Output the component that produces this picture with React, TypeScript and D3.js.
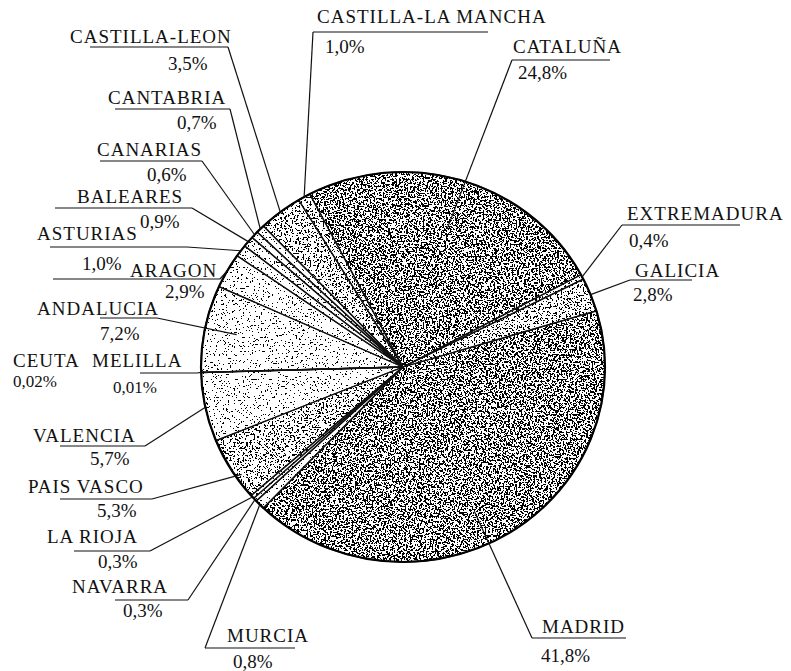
import React from "react";
import * as d3 from "d3";

// clockwise from the top, starting with Cataluña
const regions = [
  "CATALUÑA", "EXTREMADURA", "GALICIA", "MADRID", "MURCIA", "NAVARRA",
  "LA RIOJA", "PAIS VASCO", "VALENCIA", "CEUTA", "MELILLA", "ANDALUCIA",
  "ARAGON", "ASTURIAS", "BALEARES", "CANARIAS", "CANTABRIA",
  "CASTILLA-LEON", "CASTILLA-LA MANCHA",
];
const shares = [
  24.8, 0.4, 2.8, 41.8, 0.8, 0.3,
  0.3, 5.3, 5.7, 0.02, 0.01, 7.2,
  2.9, 1.0, 0.9, 0.6, 0.7,
  3.5, 1.0,
];

// stipple density per slice
const tone: Record<string, string> = {
  "CATALUÑA": "dark", "MADRID": "dark", "EXTREMADURA": "mid", "GALICIA": "mid",
  "PAIS VASCO": "mid", "CASTILLA-LEON": "mid", "CASTILLA-LA MANCHA": "mid",
};

// label placement: name, percent, underline, join point, leader anchor in slice
const labelLayout = [
  { id: "CASTILLA-LA MANCHA", nx: 317, ny: 23, px: 325, py: 53, ux1: 313, ux2: 488, uy: 32, jx: 313, f: 0.5, r: 1 },
  { id: "CATALUÑA", nx: 513, ny: 53, px: 518, py: 79, ux1: 512, ux2: 610, uy: 60, jx: 512, f: 0.5, r: 0.74 },
  { id: "CASTILLA-LEON", nx: 70, ny: 43, px: 168, py: 70, ux1: 90, ux2: 228, uy: 47, jx: 228, f: 0.5, r: 1 },
  { id: "CANTABRIA", nx: 108, ny: 104, px: 177, py: 129, ux1: 115, ux2: 230, uy: 109, jx: 230, f: 0.5, r: 1 },
  { id: "CANARIAS", nx: 97, ny: 156, px: 147, py: 181, ux1: 100, ux2: 202, uy: 161, jx: 202, f: 0.5, r: 1 },
  { id: "BALEARES", nx: 77, ny: 203, px: 140, py: 228, ux1: 55, ux2: 192, uy: 208, jx: 192, f: 0.5, r: 1 },
  { id: "ASTURIAS", nx: 37, ny: 240, px: 82, py: 270, ux1: 50, ux2: 187, uy: 247, jx: 187, f: 0.5, r: 1 },
  { id: "ARAGON", nx: 130, ny: 277, px: 165, py: 298, ux1: 53, ux2: 220, uy: 279, jx: 220, f: 0.5, r: 1 },
  { id: "ANDALUCIA", nx: 37, ny: 315, px: 100, py: 340, ux1: 100, ux2: 157, uy: 318, jx: 157, f: 0.5, r: 0.84 },
  { id: "CEUTA", nx: 13, ny: 367, px: 13, py: 387, ux1: 0, ux2: 0, uy: 0, jx: -1, f: 0.5, r: 1 },
  { id: "MELILLA", nx: 92, ny: 367, px: 113, py: 393, ux1: 140, ux2: 197, uy: 373, jx: 197, f: 0.5, r: 1 },
  { id: "VALENCIA", nx: 33, ny: 442, px: 90, py: 465, ux1: 60, ux2: 145, uy: 446, jx: 145, f: 0.5, r: 1 },
  { id: "PAIS VASCO", nx: 28, ny: 493, px: 97, py: 517, ux1: 60, ux2: 152, uy: 499, jx: 152, f: 0.35, r: 0.97 },
  { id: "LA RIOJA", nx: 47, ny: 543, px: 98, py: 568, ux1: 74, ux2: 150, uy: 551, jx: 150, f: 0.5, r: 1 },
  { id: "NAVARRA", nx: 72, ny: 593, px: 123, py: 617, ux1: 115, ux2: 188, uy: 600, jx: 188, f: 0.5, r: 1 },
  { id: "MURCIA", nx: 227, ny: 642, px: 233, py: 668, ux1: 205, ux2: 295, uy: 648, jx: 205, f: 0.5, r: 1 },
  { id: "MADRID", nx: 542, ny: 633, px: 541, py: 662, ux1: 532, ux2: 626, uy: 638, jx: 532, f: 0.54, r: 0.82 },
  { id: "EXTREMADURA", nx: 627, ny: 220, px: 629, py: 247, ux1: 622, ux2: 740, uy: 225, jx: 622, f: 0.5, r: 1 },
  { id: "GALICIA", nx: 635, ny: 277, px: 633, py: 301, ux1: 630, ux2: 692, uy: 280, jx: 630, f: 0.5, r: 1 },
];

const W = 791;
const H = 671;
const cx = 403;
const cy = 367;
const R = 202;
const ky = 195 / 202;
const startDeg = -27.5;

const fmt = (v: number) =>
  (v < 0.1 ? d3.format(".2f")(v) : d3.format(".1f")(v)).replace(".", ",") + "%";

const thresholds: Record<string, number> = { dark: 0.52, mid: 0.58, light: 0.67 };

export default function App() {
  const data = regions.map((name, i) => ({ name, value: shares[i] }));
  const start = (startDeg * Math.PI) / 180;
  const pie = d3.pie<{ name: string; value: number }>()
    .sort(null)
    .value((d) => d.value)
    .startAngle(start)
    .endAngle(start + 2 * Math.PI);
  const arcs = pie(data);
  const arc = d3.arc<d3.PieArcDatum<{ name: string; value: number }>>()
    .innerRadius(0)
    .outerRadius(R);

  const byName = new Map(arcs.map((a) => [a.data.name, a]));

  return (
    <svg width={W} height={H} style={{ position: "absolute", left: 0, top: 0, background: "#fff" }}>
      <defs>
        {Object.entries(thresholds).map(([k, t], i) => (
          <filter key={k} id={`st-${k}`} x="0" y="0" width="1" height="1" colorInterpolationFilters="sRGB">
            <feTurbulence type="fractalNoise" baseFrequency="0.55" numOctaves={2} seed={3 + i} result="n" />
            <feColorMatrix
              in="n"
              type="matrix"
              values={`0 0 0 0 0  0 0 0 0 0  0 0 0 0 0  12 0 0 0 ${0.5 - 12 * t}`}
              result="m"
            />
            <feComponentTransfer in="m" result="d">
              <feFuncA type="discrete" tableValues="0 1" />
            </feComponentTransfer>
            <feComposite in="d" in2="SourceAlpha" operator="in" />
          </filter>
        ))}
      </defs>

      <g transform={`translate(${cx},${cy}) scale(1,${ky})`}>
        {arcs.map((a) => (
          <path key={a.data.name + "-bg"} d={arc(a) || ""} fill="#fff" />
        ))}
        {arcs.map((a) => (
          <path
            key={a.data.name + "-st"}
            d={arc(a) || ""}
            fill="#000"
            filter={`url(#st-${tone[a.data.name] || "light"})`}
          />
        ))}
        {arcs.map((a) => (
          <path
            key={a.data.name + "-ln"}
            d={arc(a) || ""}
            fill="none"
            stroke="#111"
            strokeWidth={1.3}
            vectorEffect="non-scaling-stroke"
            strokeLinejoin="round"
          />
        ))}
        <circle r={R} fill="none" stroke="#000" strokeWidth={2.2} vectorEffect="non-scaling-stroke" />
      </g>

      {labelLayout.map((l) => {
        const a = byName.get(l.id);
        if (!a || l.jx < 0) return null;
        const ang = a.startAngle + (a.endAngle - a.startAngle) * l.f;
        const ex = cx + R * l.r * Math.sin(ang);
        const ey = cy - R * ky * l.r * Math.cos(ang);
        return (
          <g key={l.id + "-lead"} fill="none" stroke="#111" strokeWidth={1.2}>
            <line x1={l.ux1} x2={l.ux2} y1={l.uy} y2={l.uy} />
            <line x1={l.jx} y1={l.uy} x2={ex} y2={ey} />
          </g>
        );
      })}

      {labelLayout.map((l) => {
        const a = byName.get(l.id);
        if (!a) return null;
        const small = l.id === "CEUTA" || l.id === "MELILLA";
        return (
          <React.Fragment key={l.id + "-txt"}>
            <text x={l.nx} y={l.ny} fill="#111" fontFamily="Liberation Serif" fontSize={19} letterSpacing={1}>
              {l.id}
            </text>
            <text x={l.px} y={l.py} fill="#111" fontFamily="Liberation Serif" fontSize={small ? 17 : 19}>
              {fmt(a.data.value)}
            </text>
          </React.Fragment>
        );
      })}
    </svg>
  );
}
